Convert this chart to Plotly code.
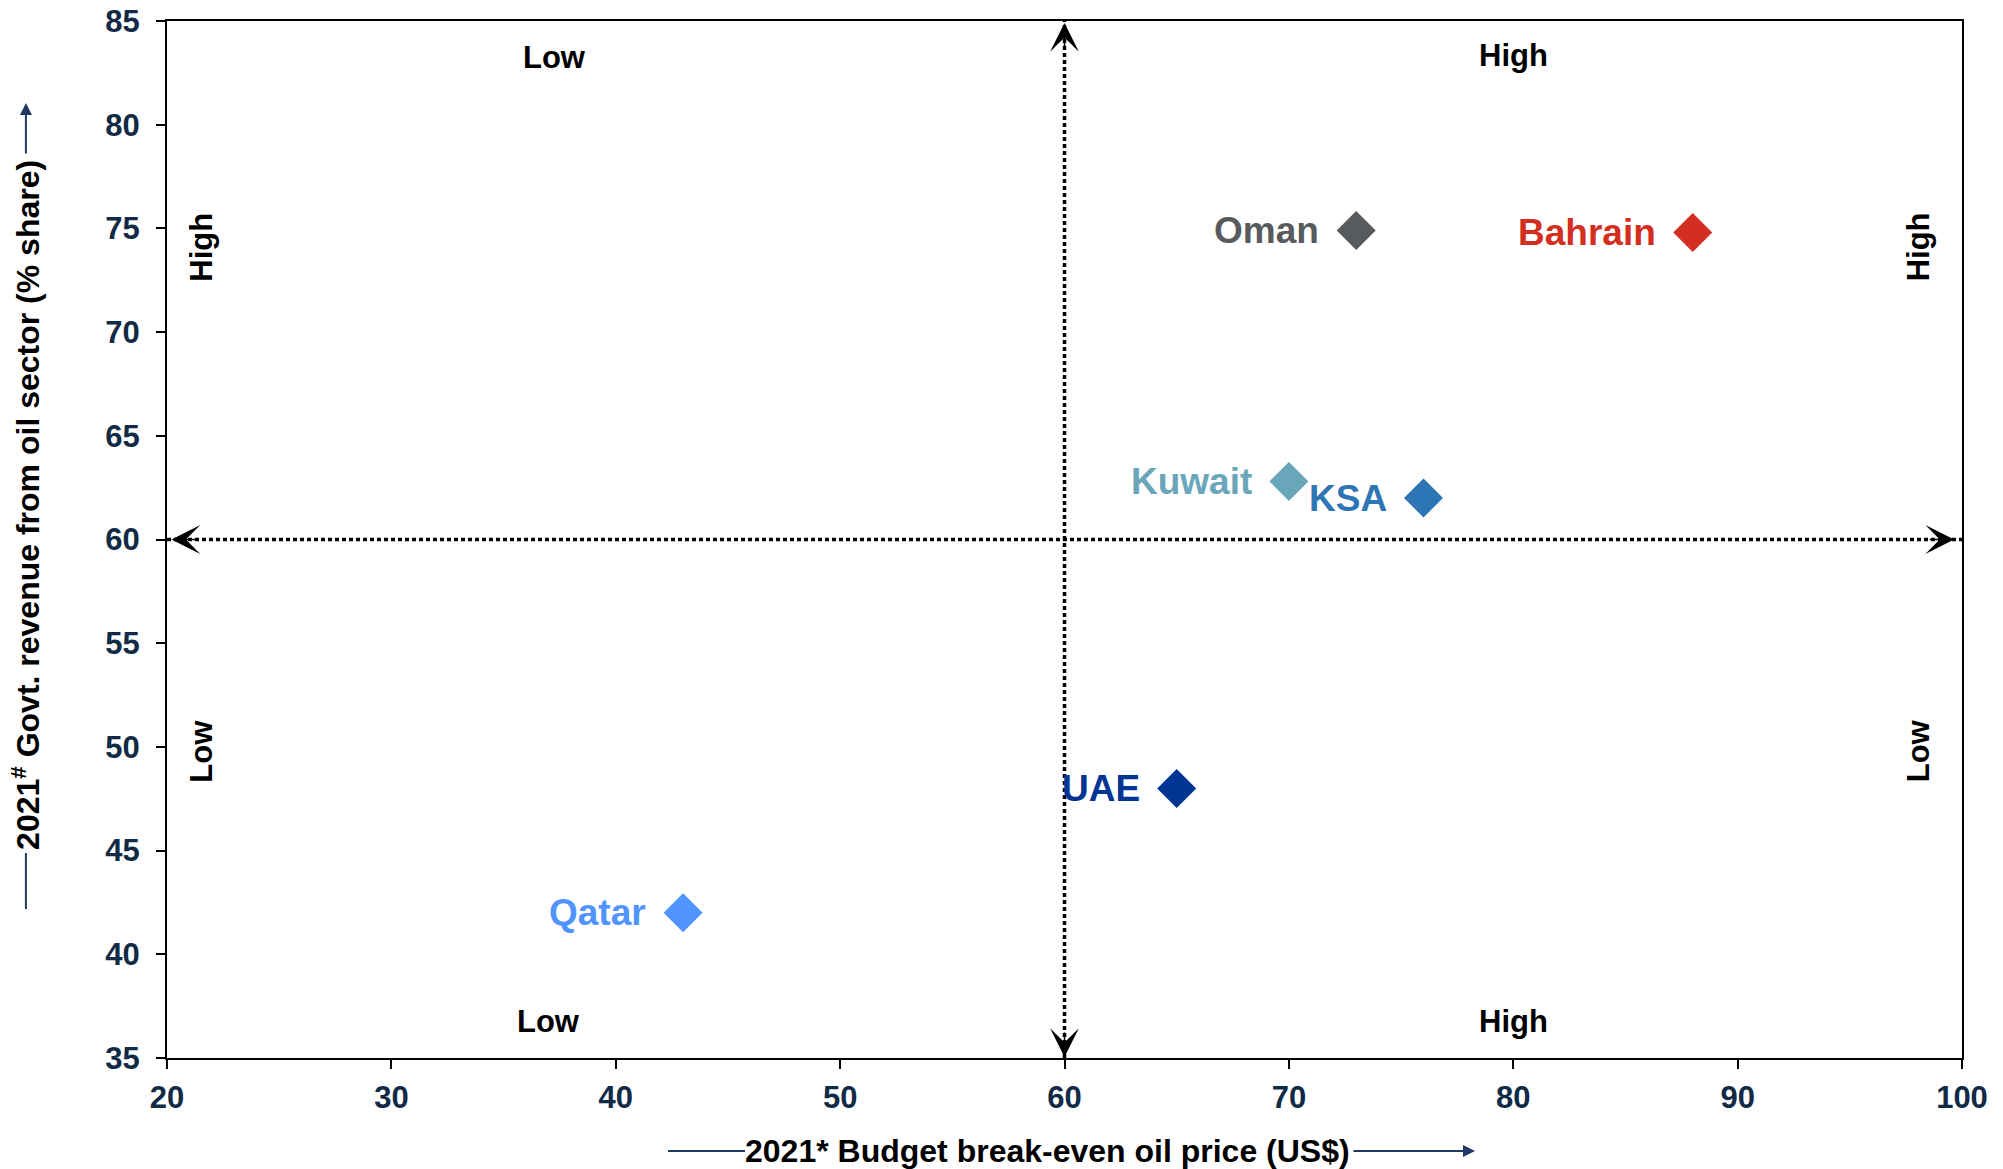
import plotly.graph_objects as go

# ---------------- data ----------------
countries = ["Oman", "Bahrain", "Kuwait", "KSA", "UAE", "Qatar"]
breakeven_price = [73, 88, 70, 76, 65, 43]          # 2021* budget break-even oil price (US$)
oil_revenue_share = [74.9, 74.8, 62.8, 62.0, 48.0, 42.0]  # 2021# govt revenue from oil (% share)
country_colors = ["#575b5e", "#d42e20", "#6aa6ba", "#2e75b6", "#003594", "#5094ff"]

x_ticks = [20, 30, 40, 50, 60, 70, 80, 90, 100]
y_ticks = [35, 40, 45, 50, 55, 60, 65, 70, 75, 80, 85]
x_range = [20, 100]
y_range = [35, 85]
x_split = 60
y_split = 60

x_title = "2021* Budget break-even oil price (US$)"
y_title = "2021<sup>#</sup> Govt. revenue from oil sector (% share)"

FONT = "Liberation Sans, Arial, sans-serif"
TICK_COLOR = "#112a46"
NAVY = "#1f3864"

fig = go.Figure()

fig.add_trace(go.Scatter(
    x=breakeven_price, y=oil_revenue_share, mode="markers",
    marker=dict(symbol="diamond", size=30, color=country_colors, line=dict(width=0)),
    cliponaxis=False, showlegend=False, hoverinfo="skip",
))

annotations = []
# country labels, to the left of each marker
for name, xv, yv, col in zip(countries, breakeven_price, oil_revenue_share, country_colors):
    annotations.append(dict(
        x=xv, y=yv, xref="x", yref="y", text=name, showarrow=False,
        xanchor="right", yanchor="middle", xshift=-35, yshift=0,
        font=dict(family=FONT, size=37, color=col, weight="bold"),
    ))

# quadrant labels
quad_labels = [
    ("Low", 37.25, 83.25, 0), ("High", 80.0, 83.35, 0),
    ("Low", 37.0, 36.75, 0), ("High", 80.0, 36.75, 0),
    ("High", 21.5, 74.1, -90), ("Low", 21.5, 49.8, -90),
    ("High", 98.05, 74.1, -90), ("Low", 98.05, 49.8, -90),
]
for txt, xv, yv, ang in quad_labels:
    annotations.append(dict(
        x=xv, y=yv, xref="x", yref="y", text=txt, showarrow=False, textangle=ang,
        xanchor="center", yanchor="middle",
        font=dict(family=FONT, size=31, color="black", weight="bold"),
    ))

# arrowheads at ends of the dotted quadrant lines
head = dict(text="", showarrow=True, arrowhead=3, arrowsize=3.2, arrowwidth=1.5,
            arrowcolor="black", standoff=0, xref="x", yref="y")
annotations.append(dict(head, x=x_split, y=y_range[1] - 0.1, ax=0, ay=26))
annotations.append(dict(head, x=x_split, y=y_range[0] + 0.05, ax=0, ay=-26))
annotations.append(dict(head, x=x_range[1] - 0.35, y=y_split, ax=-26, ay=0))
annotations.append(dict(head, x=x_range[0] + 0.2, y=y_split, ax=26, ay=0))

# axis titles
annotations.append(dict(
    x=0.4903, y=-0.0897, xref="paper", yref="paper", text=x_title, showarrow=False,
    xanchor="center", yanchor="middle",
    font=dict(family=FONT, size=32, color="black", weight="bold"),
))
annotations.append(dict(
    x=-0.0786, y=0.5333, xref="paper", yref="paper", text=y_title, showarrow=False,
    textangle=-90, xanchor="center", yanchor="middle",
    font=dict(family=FONT, size=32, color="black", weight="bold"),
))
# title arrows
annotations.append(dict(
    x=0.7287, y=-0.0897, xref="paper", yref="paper", text="", showarrow=True,
    ax=-123, ay=0, arrowhead=2, arrowsize=1.2, arrowwidth=2, arrowcolor=NAVY,
))
annotations.append(dict(
    x=-0.0786, y=0.9209, xref="paper", yref="paper", text="", showarrow=True,
    ax=0, ay=52, arrowhead=2, arrowsize=1.2, arrowwidth=2, arrowcolor=NAVY,
))

shapes = [
    # dotted quadrant lines
    dict(type="line", xref="x", yref="y", x0=x_split, x1=x_split, y0=y_range[0], y1=y_range[1],
         line=dict(color="black", width=3.5, dash="4px,3px")),
    dict(type="line", xref="x", yref="y", x0=x_range[0], x1=x_range[1], y0=y_split, y1=y_split,
         line=dict(color="black", width=3.5, dash="4px,3px")),
    # leading lines of axis titles
    dict(type="line", xref="paper", yref="paper", x0=0.2791, x1=0.322, y0=-0.0897, y1=-0.0897,
         line=dict(color=NAVY, width=2)),
    dict(type="line", xref="paper", yref="paper", x0=-0.0786, x1=-0.0786, y0=0.1437, y1=0.1977,
         line=dict(color=NAVY, width=2)),
]

axis_common = dict(
    showline=True, linecolor="black", linewidth=2, mirror=True,
    ticks="outside", ticklen=9, tickwidth=2, tickcolor="black",
    showgrid=False, zeroline=False, automargin=False,
    tickfont=dict(family=FONT, size=31, color=TICK_COLOR, weight="bold"),
)

fig.update_layout(
    width=2003, height=1169,
    margin=dict(l=167, r=41, t=21, b=111, autoexpand=False),
    paper_bgcolor="white", plot_bgcolor="white",
    xaxis=dict(axis_common, range=x_range, tickvals=x_ticks, ticklabelstandoff=2),
    yaxis=dict(axis_common, range=y_range, tickvals=y_ticks, ticklabelstandoff=10),
    annotations=annotations, shapes=shapes,
    showlegend=False,
)

fig.write_html("out.html")
